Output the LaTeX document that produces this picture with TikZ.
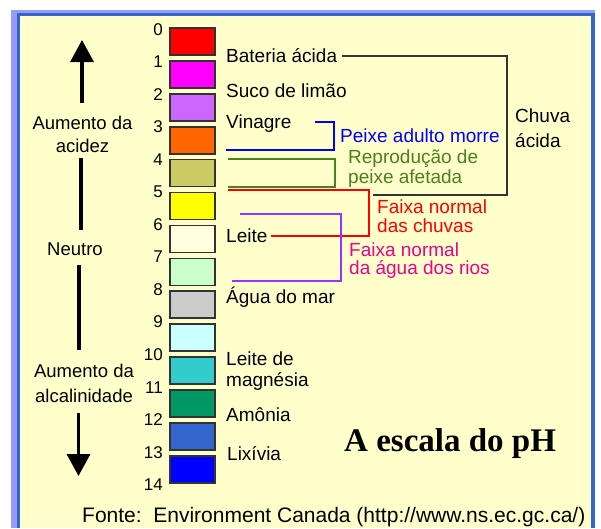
\documentclass[tikz,border=0pt]{standalone}
\usepackage{fontspec}
\setmainfont{Liberation Sans}
\newfontfamily\titlefont{Liberation Serif}
\usetikzlibrary{arrows.meta}
\definecolor{bgyellow}{HTML}{FFFFCC}
\definecolor{framelav}{HTML}{9999FF}
\definecolor{frameblue}{HTML}{3366CC}
\definecolor{boxline}{HTML}{333333}
\definecolor{ph0}{HTML}{FF0000}
\definecolor{ph1}{HTML}{FF00FF}
\definecolor{ph2}{HTML}{CC66FF}
\definecolor{ph3}{HTML}{FF6600}
\definecolor{ph4}{HTML}{CCCC66}
\definecolor{ph5}{HTML}{FFFF00}
\definecolor{ph6}{HTML}{FFFFE0}
\definecolor{ph7}{HTML}{CCFFCC}
\definecolor{ph8}{HTML}{CCCCCC}
\definecolor{ph9}{HTML}{CCFFFF}
\definecolor{ph10}{HTML}{33CCCC}
\definecolor{ph11}{HTML}{009966}
\definecolor{ph12}{HTML}{3366CC}
\definecolor{ph13}{HTML}{0000FF}
\definecolor{peixeblue}{HTML}{0000FF}
\definecolor{reprogreen}{HTML}{4C7F1F}
\definecolor{riosviolet}{HTML}{9933FF}
\tikzset{
  phbox/.style={draw=boxline,line width=1.6pt,minimum width=45pt,minimum height=27pt,inner sep=0pt},
  phnum/.style={anchor=base east,inner sep=0pt,font=\fontsize{17}{20}\selectfont},
  phlabel/.style={anchor=base west,inner sep=1pt,align=left,font=\fontsize{19}{21}\selectfont},
  sidetext/.style={anchor=base,inner sep=1pt,align=center},
  bracket/.style={line width=1.3pt},
  axisline/.style={line width=3.3pt},
  bigarrow/.style={line width=3.3pt,-{Triangle[width=23pt,length=22pt]}},
}
\begin{document}
\begin{tikzpicture}[x=1pt,y=-1pt]
  \useasboundingbox (0,0) rectangle (601,528);
  \fill[white] (0,0) rectangle (601,528);
  \fill[framelav] (11,10) rectangle (595,528);
  \fill[frameblue] (17,13) rectangle (595,528);
  \fill[bgyellow] (20,16) rectangle (591,528);

  \foreach \i in {0,...,13}
    \node[phbox,fill=ph\i] (b\i) at (192.5,{41.5+32.9*\i}) {};
  \foreach \i in {0,...,14}
    \node[phnum] (n\i) at (163,{35+32.55*\i}) {\i};

  \node[phlabel] (lbat) at (225,62) {Bateria ácida};
  \node[phlabel] (lsuco) at (225,97) {Suco de limão};
  \node[phlabel] (lvin) at (225,128) {Vinagre};
  \node[phlabel] (lleite) at (225,242) {Leite};
  \node[phlabel] (lagua) at (225,303) {Água do mar};
  \node[phlabel] (lmag) at (225,386) {Leite de\\magnésia};
  \node[phlabel] (lamo) at (225,421) {Amônia};
  \node[phlabel] (llix) at (226,460) {Lixívia};

  \node[phlabel,text=peixeblue] (lpeixe) at (339,142) {Peixe adulto morre};
  \node[phlabel,text=reprogreen,font=\fontsize{19}{19.5}\selectfont] (lrepro) at (347,183) {Reprodução de\\peixe afetada};
  \node[phlabel,text=red,font=\fontsize{19}{19}\selectfont] (lchuvas) at (376,232) {Faixa normal\\das chuvas};
  \node[phlabel,text=magenta,font=\fontsize{19}{17.5}\selectfont] (lrios) at (348,274) {Faixa normal\\da água dos rios};
  \node[phlabel,font=\fontsize{19}{25}\selectfont] (lchuva) at (514,147) {Chuva\\ácida};

  \coordinate (cbr) at (507,195);
  \coordinate (cbl) at (373,195);
  \draw[bracket,boxline] ([xshift=4pt,yshift=6pt]lbat.base east) -| (cbr) -- (cbl);
  \coordinate (pb1) at (226,150);
  \coordinate (pb2) at (334,122);
  \coordinate (pb3) at (315,122);
  \draw[bracket,peixeblue] (pb1) -| (pb2) -- (pb3);
  \coordinate (pg1) at (228,159);
  \coordinate (pg2) at (335,187);
  \coordinate (pg3) at (228,187);
  \draw[bracket,reprogreen] (pg1) -| (pg2) -- (pg3);
  \coordinate (pr1) at (228,190);
  \coordinate (pr2) at (369,236);
  \draw[bracket,red] (pr1) -| (pr2) -- ([xshift=2pt,yshift=6pt]lleite.base east);
  \coordinate (pv1) at (240,214);
  \coordinate (pv2) at (341,281);
  \coordinate (pv3) at (232,281);
  \draw[bracket,riosviolet] (pv1) -| (pv2) -- (pv3);

  \node[sidetext,font=\fontsize{18.5}{23}\selectfont] (lacid) at (82.5,152) {Aumento da\\acidez};
  \node[sidetext,font=\fontsize{18.5}{22}\selectfont] (lneutro) at (75,255) {Neutro};
  \node[sidetext,font=\fontsize{18.5}{25}\selectfont] (lalca) at (84,402) {Aumento da\\alcalinidade};
  \coordinate (upfoot) at (82,103);
  \coordinate (uptip) at (82,40);
  \draw[bigarrow] (upfoot) -- (uptip);
  \coordinate (ax1) at (81,158);
  \coordinate (ax2) at (81,230);
  \draw[axisline] (ax1) -- (ax2);
  \coordinate (ax3) at (79,265);
  \coordinate (ax4) at (79,350);
  \draw[axisline] (ax3) -- (ax4);
  \coordinate (downfoot) at (78.5,413);
  \coordinate (downtip) at (78.5,476);
  \draw[bigarrow] (downfoot) -- (downtip);

  \node[anchor=base west,inner sep=0pt,font=\titlefont\bfseries\fontsize{33}{36}\selectfont] (title) at (344,451) {A escala do pH};
  \node[anchor=base west,inner sep=0pt,font=\fontsize{21}{24}\selectfont] (fonte) at (82,522) {Fonte:\ \ Environment Canada (http://www.ns.ec.gc.ca/)};
\end{tikzpicture}
\end{document}
